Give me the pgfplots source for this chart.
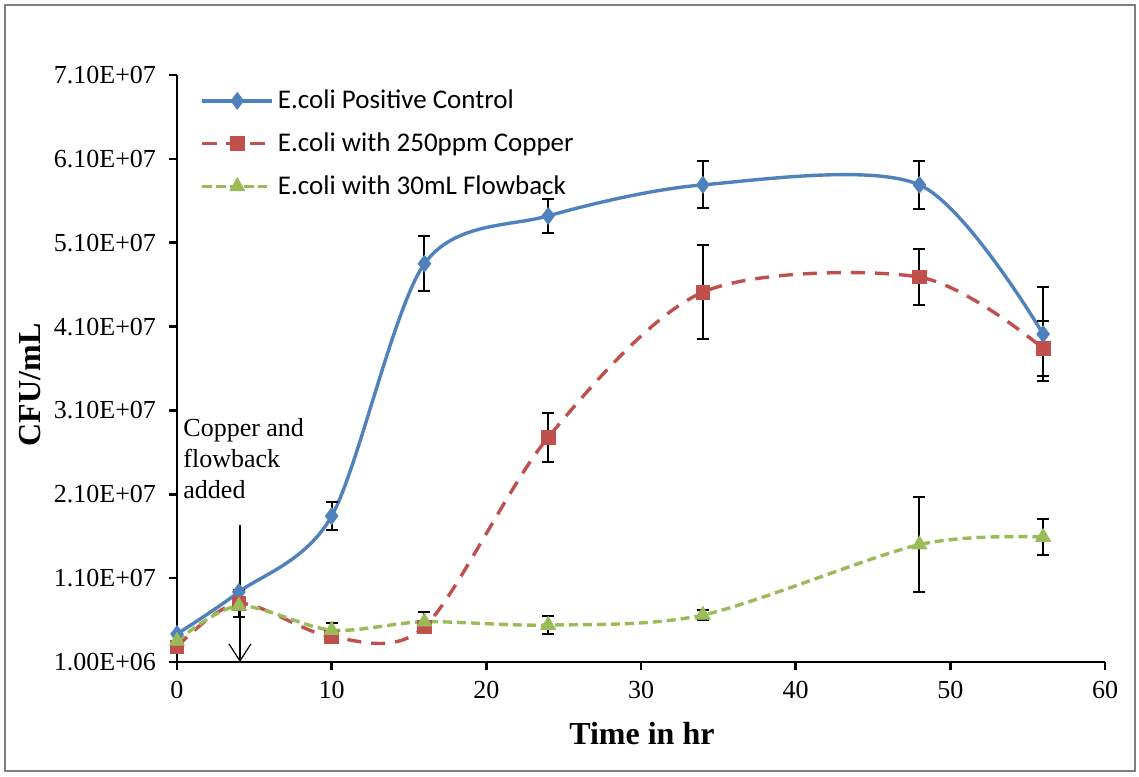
\documentclass[border=0pt]{standalone}
\usepackage{pgfplots}
\pgfplotsset{compat=1.18}
\usepackage{fontspec}
\setmainfont{Liberation Serif}
\newfontfamily\legfont{Carlito}
\usetikzlibrary{arrows.meta}
\definecolor{cblue}{HTML}{4F81BD}
\definecolor{cred}{HTML}{C0504D}
\definecolor{cgreen}{HTML}{9BBB59}
\pgfplotstableread{
x y ey
0 4.34e6 0
4 9.35e6 0
10 1.84e7 1.7e6
16 4.85e7 3.3e6
24 5.42e7 2.0e6
34 5.79e7 2.8e6
48 5.79e7 2.9e6
56 4.01e7 5.6e6
}\bluedata
\pgfplotstableread{
x y ey
0 2.8e6 0
4 8.0e6 1.6e6
10 4.0e6 0
16 5.2e6 0
24 2.78e7 2.9e6
34 4.51e7 5.6e6
48 4.69e7 3.3e6
56 3.84e7 3.3e6
}\reddata
\pgfplotstableread{
x y ey
0 3.5e6 0
4 7.7e6 0
10 4.8e6 0.8e6
16 5.8e6 1.2e6
24 5.4e6 1.1e6
34 6.6e6 0.6e6
48 1.50e7 5.7e6
56 1.59e7 2.1e6
}\greendata
\begin{document}
\begin{tikzpicture}
\useasboundingbox (-88.5pt,-57pt) rectangle (481pt,331pt);
\draw[black!50, line width=0.8pt] (-86pt,-54.5pt) rectangle (479pt,328.5pt);
\begin{axis}[
  at={(0pt,0pt)}, anchor=south west,
  scale only axis, width=464pt, height=293.5pt,
  xmin=0, xmax=60, ymin=1e6, ymax=7.1e7,
  axis x line*=bottom, axis y line*=left,
  axis line style={-, line width=1.3pt, black},
  xtick={0,10,20,30,40,50,60},
  xticklabels={0,10,20,30,40,50,60},
  ytick={1e6,1.1e7,2.1e7,3.1e7,4.1e7,5.1e7,6.1e7,7.1e7},
  yticklabels={1.00E+06,1.10E+07,2.10E+07,3.10E+07,4.10E+07,5.10E+07,6.10E+07,7.10E+07},
  scaled y ticks=false,
  tick align=outside, major tick length=4pt,
  tick style={line width=1.3pt, black},
  ticklabel style={font=\fontsize{13}{15}\selectfont},
  yticklabel style={xshift=-3pt},
  xticklabel style={yshift=-2pt},
  xlabel={\textbf{Time in hr}},
  ylabel={\textbf{CFU/mL}},
  label style={font=\fontsize{16}{18}\selectfont},
  xlabel style={at={(axis description cs:0.501,-0.1227)}, anchor=center},
  ylabel style={at={(axis description cs:-0.158,0.472)}, anchor=center},
  legend style={draw=none, fill=none, at={(axis description cs:0.025,0.982)}, anchor=north west,
    font=\legfont\fontsize{13.5}{15}\selectfont, row sep=6.5pt, inner sep=0pt},
  legend cell align=left,
  legend image code/.code={\draw[mark repeat=2,mark phase=2,#1] plot coordinates {(0pt,0pt) (17.5pt,0pt) (35pt,0pt)};},
  clip=false,
]
\addplot[cblue, line width=1.7pt, smooth, tension=0.5, mark=diamond*, mark size=4.2pt,
  mark options={solid, fill=cblue, line width=0.4pt},
  error bars/.cd, y dir=both, y explicit,
  error bar style={black, line width=1pt, solid},
  error mark options={rotate=90, mark size=3pt, black, line width=1pt}]
  table[x=x, y=y, y error=ey] {\bluedata};
\addlegendentry{E.coli Positive Control}
\addplot[cred, line width=1.7pt, smooth, tension=0.5, dash pattern=on 7pt off 5pt, mark=square*, mark size=3.4pt,
  mark options={solid, fill=cred, line width=0.4pt},
  error bars/.cd, y dir=both, y explicit,
  error bar style={black, line width=1pt, solid},
  error mark options={rotate=90, mark size=3pt, black, line width=1pt}]
  table[x=x, y=y, y error=ey] {\reddata};
\addlegendentry{E.coli with 250ppm Copper}
\addplot[cgreen, line width=1.7pt, smooth, tension=0.5, dash pattern=on 4.5pt off 2.5pt, mark=triangle*, mark size=4.3pt,
  mark options={solid, fill=cgreen, line width=0.4pt},
  error bars/.cd, y dir=both, y explicit,
  error bar style={black, line width=1pt, solid},
  error mark options={rotate=90, mark size=3pt, black, line width=1pt}]
  table[x=x, y=y, y error=ey] {\greendata};
\addlegendentry{E.coli with 30mL Flowback}
\draw[line width=0.6pt, -{Straight Barb[length=8.5pt,width=11pt]}] (axis cs:4.07,1.73e7) -- (axis cs:4.07,1e6);
\node[anchor=north west, inner sep=0pt, align=left, font=\fontsize{13}{15.5}\selectfont] at (axis cs:0.39,3.01e7) {Copper and\\flowback\\added};
\end{axis}
\end{tikzpicture}
\end{document}
